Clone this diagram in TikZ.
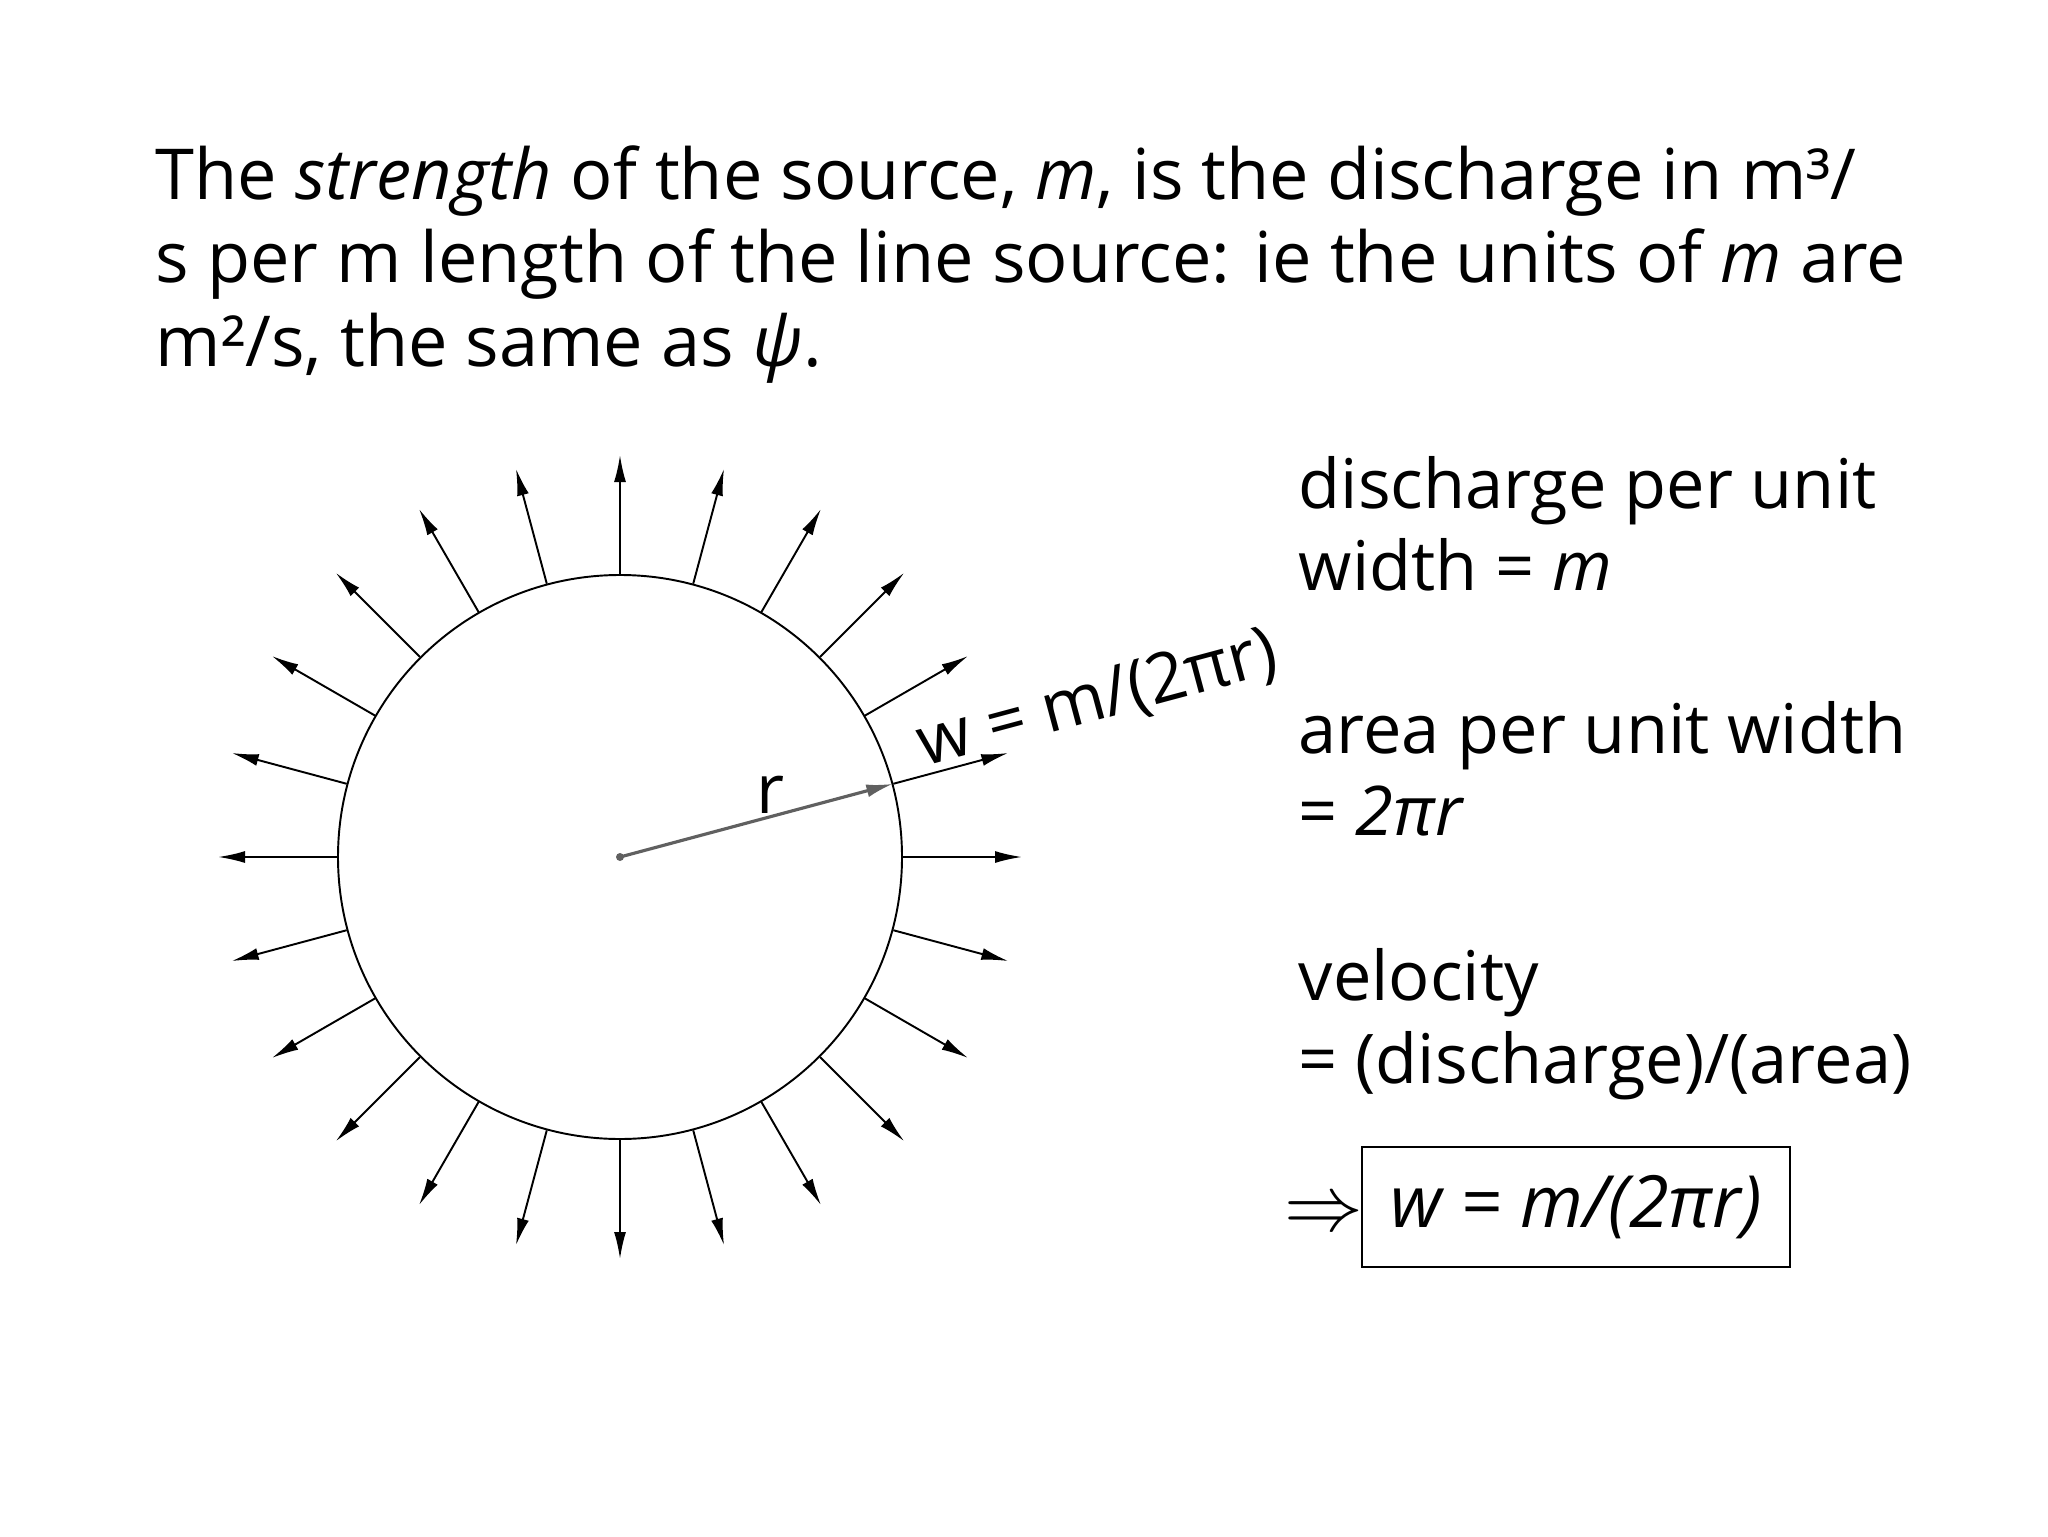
\documentclass[tikz,border=0pt]{standalone}
\usepackage{fontspec}
\setmainfont{Open Sans}
\usetikzlibrary{arrows.meta}
\definecolor{radgray}{RGB}{96,96,96}

\begin{document}
\begin{tikzpicture}[x=0.1mm, y=0.1mm, font=\fontsize{19.5}{23}\selectfont]
    \tikzstyle{txt}=[anchor=base west, inner sep=0pt]
    \tikzstyle{big txt}=[txt, font=\fontsize{20}{24}\selectfont]
    \tikzstyle{flow}=[-{Latex[length=2.7mm,width=1.2mm]}, line width=0.55pt]
    \tikzstyle{radius arrow}=[-{Latex[length=2.7mm,width=1.3mm]}, draw=radgray, fill=radgray, line width=0.9pt]

    \useasboundingbox (0,0) rectangle (2048,1536);

    \node[big txt] (t1) at (155,1336) {The \textit{strength} of the source, \textit{m}, is the discharge in m³/};
    \node[big txt] (t2) at (155,1253) {s per m length of the line source: ie the units of \textit{m} are};
    \node[big txt] (t3) at (155,1169) {m²/s, the same as \textit{ψ}.};

    \node[circle, draw, line width=0.55pt, minimum size=56.4mm, inner sep=0pt] (src) at (620,679) {};
    \foreach \a in {0,15,...,345}{
        \path (src.center) ++(\a:402) coordinate (tip-\a);
        \draw[flow] (src.\a) -- (tip-\a);
    }
    \fill[radgray] (src.center) circle (4);
    \draw[radius arrow] (src.center) -- (src.15);
    \node[anchor=base] (rlab) at (770,723) {r};
    \node[txt, rotate=15] (wlab) at (924,769) {w = m/(2πr)};

    \node[txt] (d1) at (1298,1028) {discharge per unit};
    \node[txt] (d2) at (1298,946) {width = \textit{m}};
    \node[txt] (a1) at (1298,783) {area per unit width};
    \node[txt] (a2) at (1298,701) {= \textit{2πr}};
    \node[txt] (v1) at (1298,536) {velocity};
    \node[txt] (v2) at (1298,453) {= (discharge)/(area)};

    \node[draw, line width=0.55pt, minimum width=42.8mm, minimum height=12mm, font=\fontsize{20.5}{24}\selectfont] (res) at (1576,329) {\itshape w = m/(2πr)};
    \node[txt] (impl) at (1284,306) {\scalebox{1.08}{$\Rightarrow$}};
\end{tikzpicture}
\end{document}
